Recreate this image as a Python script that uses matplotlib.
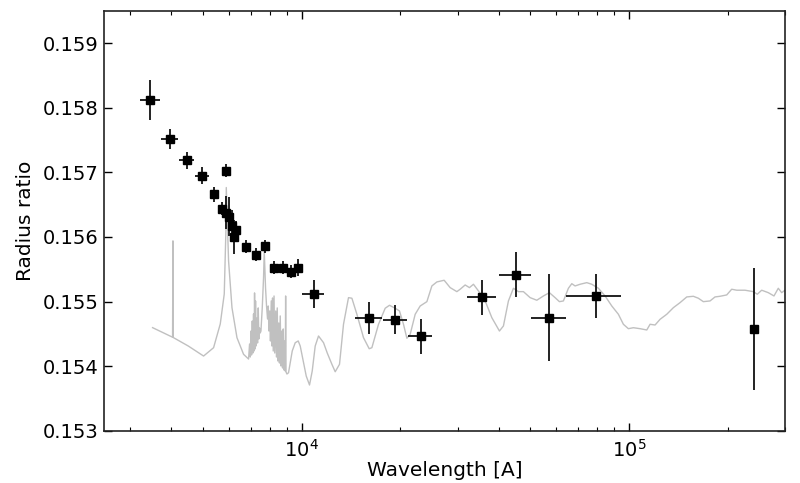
import numpy as np
import matplotlib
matplotlib.use("Agg")
import matplotlib.pyplot as plt

# --- observed transmission points ---
wl = [3454, 3956, 4458, 4968, 5415, 5892, 5716, 5880, 5988, 6133, 6321, 6220,
      6747, 7238, 7750, 8253, 8750, 9283, 9770, 10880, 16060, 19320, 23080,
      35600, 45100, 57130, 79140, 240300]
wl_lo = [235, 232, 232, 240, 175, 70, 30, 30, 30, 30, 30, 30,
         60, 65, 70, 75, 80, 85, 90, 852, 1475, 1600, 1870,
         3490, 4980, 7010, 14890, 0]
wl_hi = [252, 249, 247, 248, 181, 75, 30, 30, 30, 30, 30, 30,
         60, 65, 70, 75, 80, 85, 90, 850, 1530, 1740, 1970,
         3600, 5020, 7120, 15200, 0]
rr = [0.158118, 0.157514, 0.157183, 0.156946, 0.156663, 0.157028, 0.156440,
      0.156378, 0.156311, 0.156172, 0.156105, 0.156002, 0.155847, 0.155723,
      0.155857, 0.155522, 0.155526, 0.155460, 0.155522, 0.155114, 0.154752,
      0.154721, 0.154464, 0.155065, 0.155413, 0.154752, 0.155093, 0.154582]
rr_err = [0.000315, 0.000158, 0.000139, 0.000129, 0.000116, 0.000104, 0.000100,
          0.000250, 0.000300, 0.000250, 0.000150, 0.000260, 0.000100, 0.000100,
          0.000100, 0.000100, 0.000100, 0.000100, 0.000130, 0.000217, 0.000248,
          0.000220, 0.000266, 0.000269, 0.000348, 0.000671, 0.000341, 0.000941]

# --- model spectrum ---
model_wl = [3510, 4039, 4050, 4060, 4511, 5023, 5389, 5648, 5809, 5880, 5892,
            5988, 6133, 6352, 6653, 6891,
            6940, 6974, 7008, 7038, 7073, 7107, 7137, 7163, 7188, 7213, 7238,
            7264, 7310, 7341, 7377, 7408, 7445, 7481, 7518, 7587, 7657, 7695,
            7765, 7820, 7875, 7914, 7953, 7998, 8037, 8083, 8122, 8157, 8197,
            8243, 8284, 8342, 8383, 8431, 8472, 8520, 8562, 8610, 8659, 8708,
            8751, 8794, 8837, 8887, 8918, 8943, 8968, 9025, 9127, 9368, 9567,
            9771, 9909, 10120, 10336, 10578, 10781, 11009, 11269, 11674, 11982,
            12381, 12671, 13060, 13432, 13912, 14249, 14758, 15460, 16091,
            16399, 17180, 18006, 18558, 19317, 19910, 20478, 20973, 21465,
            22233, 23029, 24138, 25001, 25894, 27255, 28430, 29800, 30500,
            31590, 32559, 33487, 34685, 36360, 38110, 40200, 41343, 42821,
            44352, 45937, 47579, 49880, 52282, 54761, 57117, 59451, 61275,
            63026, 65278, 66855, 68422, 70867, 74279, 76935, 80600, 84483,
            88553, 92762, 96078, 99511, 103070, 108040, 113250, 115900, 120050,
            124340, 130330, 136520, 143100, 150010, 157120, 162730, 168550,
            176670, 182970, 189510, 198640, 205730, 213090, 225880, 239450,
            246270, 254010, 266080, 276950, 285440, 292340, 299200]
model_rr = [0.154598, 0.154450, 0.155940, 0.154445, 0.154314, 0.154159,
            0.154288, 0.154655, 0.155119, 0.156146, 0.156765, 0.155630,
            0.154907, 0.154443, 0.154186, 0.154113,
            0.154345, 0.154144, 0.154546, 0.154175, 0.154701, 0.154206,
            0.154810, 0.154237, 0.155135, 0.154268, 0.155011, 0.154314,
            0.154748, 0.154361, 0.154903, 0.154423, 0.154593, 0.154516,
            0.154546, 0.154903, 0.155371, 0.155785, 0.155212, 0.154933,
            0.154732, 0.154933, 0.154546, 0.154856, 0.154392, 0.155011,
            0.154314, 0.155057, 0.154237, 0.155088, 0.154206, 0.154856,
            0.154144, 0.154903, 0.154082, 0.154670, 0.154051, 0.154779,
            0.154005, 0.154546, 0.153974, 0.154578, 0.153943, 0.154392,
            0.153927, 0.155088, 0.153912, 0.153881, 0.153901, 0.154237,
            0.154365, 0.154392, 0.154314, 0.154082, 0.153850, 0.153711,
            0.153927, 0.154314, 0.154469, 0.154365, 0.154206, 0.154031,
            0.153916, 0.154031, 0.154650, 0.155062, 0.155053, 0.154805,
            0.154443, 0.154272, 0.154288, 0.154650, 0.154898, 0.154944,
            0.154898, 0.154856, 0.154650, 0.154434, 0.154495, 0.154805,
            0.154933, 0.155000, 0.155243, 0.155305, 0.155331, 0.155217,
            0.155155, 0.155192, 0.155258, 0.155217, 0.155269, 0.155166,
            0.155011, 0.154752, 0.154546, 0.154624, 0.155011, 0.155207,
            0.155155, 0.155155, 0.155062, 0.155022, 0.155088, 0.155139,
            0.155062, 0.155000, 0.155011, 0.155207, 0.155278, 0.155243,
            0.155269, 0.155294, 0.155269, 0.155207, 0.155088, 0.154933,
            0.154805, 0.154650, 0.154582, 0.154597, 0.154582, 0.154562,
            0.154650, 0.154639, 0.154727, 0.154805, 0.154907, 0.154985,
            0.155073, 0.155083, 0.155053, 0.155000, 0.155011, 0.155073,
            0.155083, 0.155104, 0.155192, 0.155177, 0.155177, 0.155155,
            0.155115, 0.155177, 0.155139, 0.155088, 0.155207, 0.155139,
            0.155177]

y_ticks = [0.153, 0.154, 0.155, 0.156, 0.157, 0.158, 0.159]

fig = plt.figure(figsize=(8, 4.83), dpi=100)
ax = fig.add_axes([0.1304, 0.1077, 0.8513, 0.8702])

ax.plot(model_wl, model_rr, color="#c0c0c0", lw=1.0, zorder=1)
ax.errorbar(wl, rr, xerr=[wl_lo, wl_hi], yerr=rr_err, fmt="s", color="black",
            ms=6, elinewidth=1.3, capsize=0, ecolor="#111111", zorder=3)

ax.set_xscale("log")
ax.set_xlim(2500, 3.0e5)
ax.set_ylim(0.153, 0.1595)
ax.set_yticks(y_ticks)
ax.set_yticklabels([f"{t:.3f}" for t in y_ticks])

ax.tick_params(which="both", direction="in", top=True, right=True,
               labelsize=14, pad=4)
ax.tick_params(axis="x", pad=6)
ax.tick_params(which="major", length=6, width=1)
ax.tick_params(which="minor", length=3, width=0.8)
for s in ax.spines.values():
    s.set_linewidth(1.2)
    s.set_color("#222222")

ax.set_xlabel("Wavelength [A]", fontsize=14.5, labelpad=0)
ax.set_ylabel("Radius ratio", fontsize=14.5, labelpad=6)

fig.savefig("out.png", dpi=100)
